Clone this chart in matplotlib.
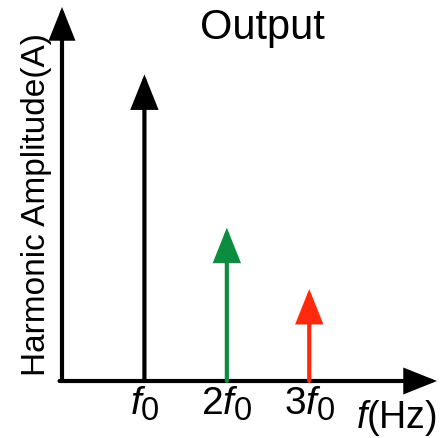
import matplotlib
matplotlib.use('Agg')
import matplotlib.pyplot as plt
try:
    import matplotlib._mathtext as _mt
    _mt.SHRINK_FACTOR = 0.84
except Exception:
    pass

plt.rcParams['font.family'] = ['Liberation Sans', 'DejaVu Sans']
plt.rcParams['mathtext.fontset'] = 'custom'
plt.rcParams['mathtext.rm'] = 'Liberation Sans'
plt.rcParams['mathtext.it'] = 'Liberation Sans:italic'

# ---- data ----
harmonics = [1, 2, 3]
amplitudes = [1.0, 0.5, 0.3]
colors = ['#000000', '#0b8c3e', '#ff2a0e']
tick_labels = [r'$\mathit{f}_0$', r'$2\mathit{f}_0$', r'$3\mathit{f}_0$']
title = 'Output'
ylabel = 'Harmonic Amplitude(A)'
xlabel = r'$\mathit{f}$(Hz)'
x_max = 4.55
y_max = 1.22

W, H = 448, 438
fig = plt.figure(figsize=(W / 100, H / 100), dpi=100)
ax = fig.add_axes([62 / W, 57 / H, (437 - 62) / W, (381 - 7) / H])
ax.set_xlim(0, x_max)
ax.set_ylim(0, y_max)
for s in ax.spines.values():
    s.set_visible(False)
ax.set_yticks([])
ax.set_xticks(harmonics)
ax.set_xticklabels(tick_labels, fontsize=28)
ax.tick_params(axis='x', length=0, pad=3)
ax.patch.set_alpha(0)

# axes arrows
axis_style = dict(arrowstyle='-|>,head_length=0.75,head_width=0.3', mutation_scale=25,
                  lw=3.0, color='black', shrinkA=0, shrinkB=0, joinstyle='miter')
ax.annotate('', xy=(0, y_max), xytext=(0, 0), arrowprops=axis_style, annotation_clip=False)
ax.annotate('', xy=(x_max, 0), xytext=(-0.03, 0), arrowprops=axis_style, annotation_clip=False)

# harmonic arrows
for x, a, c in zip(harmonics, amplitudes, colors):
    ax.annotate('', xy=(x, a), xytext=(x, 0),
                arrowprops=dict(arrowstyle='-|>,head_length=0.8,head_width=0.32',
                                mutation_scale=25, lw=3.0, color=c,
                                shrinkA=0, shrinkB=0, joinstyle='miter'),
                annotation_clip=False)

fig.text(262 / W, 1 - 39 / H, title, ha='center', va='baseline', fontsize=30)
fig.text(37 / W, 1 - 205 / H, ylabel, ha='center', va='center', rotation=90, fontsize=24)
fig.text(356 / W, 1 - 428 / H, xlabel, ha='left', va='baseline', fontsize=27)

fig.savefig('out.png', dpi=100)
